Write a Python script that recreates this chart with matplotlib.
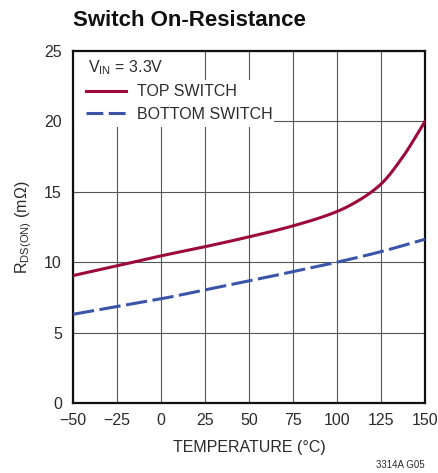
import numpy as np
import matplotlib
matplotlib.use('Agg')
import matplotlib.pyplot as plt
from matplotlib import font_manager

# temperature (C) and on-resistance (mOhm)
temp_top = [-50, -25, 0, 25, 50, 75, 100, 112.5, 125, 137.5, 150]
rds_top = [9.05, 9.74, 10.45, 11.1, 11.8, 12.58, 13.6, 14.4, 15.55, 17.5, 20.0]
temp_bot = [-50, -25, 0, 25, 50, 75, 100, 125, 150]
rds_bot = [6.3, 6.85, 7.4, 8.03, 8.67, 9.33, 10.0, 10.75, 11.63]

xticks = [-50, -25, 0, 25, 50, 75, 100, 125, 150]
xticklabels = ['\u221250', '\u221225', '0', '25', '50', '75', '100', '125', '150']
yticks = [0, 5, 10, 15, 20, 25]

# narrow font if there is one, else plain Liberation Sans a bit smaller
names = {f.name for f in font_manager.fontManager.ttflist}
if 'Liberation Sans Narrow' in names:
    fam, fs, fs_title = 'Liberation Sans Narrow', 13.5, 19
else:
    fam, fs, fs_title = 'Liberation Sans', 11.5, 16
plt.rcParams['font.family'] = [fam, 'DejaVu Sans']
plt.rcParams['mathtext.fontset'] = 'custom'
plt.rcParams['mathtext.rm'] = fam

red = '#9c0a3b'
blue = '#3a55a8'
txt = '#2b2b2b'

fig = plt.figure(figsize=(4.39, 4.73), dpi=100)
ax = fig.add_axes([73/439, 70/473, 352/439, 352/473])


def smooth(x, y, n=200):
    # monotone cubic through the read points
    x = np.asarray(x, float)
    y = np.asarray(y, float)
    h = np.diff(x)
    d = np.diff(y) / h
    m = np.zeros_like(y)
    m[0], m[-1] = d[0], d[-1]
    for i in range(1, len(x) - 1):
        if d[i-1] * d[i] > 0:
            w1 = 2*h[i] + h[i-1]
            w2 = h[i] + 2*h[i-1]
            m[i] = (w1 + w2) / (w1/d[i-1] + w2/d[i])
    xs = np.linspace(x[0], x[-1], n)
    idx = np.clip(np.searchsorted(x, xs) - 1, 0, len(x) - 2)
    t = (xs - x[idx]) / h[idx]
    h00 = 2*t**3 - 3*t**2 + 1
    h10 = t**3 - 2*t**2 + t
    h01 = -2*t**3 + 3*t**2
    h11 = t**3 - t**2
    ys = h00*y[idx] + h10*h[idx]*m[idx] + h01*y[idx+1] + h11*h[idx]*m[idx+1]
    return xs, ys


xs, ys = smooth(temp_top, rds_top)
ax.plot(xs, ys, color=red, lw=2.2, zorder=3)
xs, ys = smooth(temp_bot, rds_bot)
ax.plot(xs, ys, color=blue, lw=2.2, dashes=(7, 1.8), zorder=3)

ax.set_xlim(-50, 150)
ax.set_ylim(0, 25)
ax.set_xticks(xticks)
ax.set_xticklabels(xticklabels)
ax.set_yticks(yticks)
ax.tick_params(length=0, labelsize=fs, colors=txt)
ax.tick_params(axis='y', pad=8)
ax.tick_params(axis='x', pad=7)
ax.grid(True, color='#555555', lw=0.8)
ax.set_axisbelow(True)
for s in ax.spines.values():
    s.set_linewidth(1.6)
    s.set_color('#111111')

ax.set_xlabel('TEMPERATURE (\u00b0C)', fontsize=fs, color=txt, labelpad=9)
ax.set_ylabel('R$_{\\mathregular{DS(ON)}}$ (m\u03a9)', fontsize=fs, color=txt, labelpad=7)

# white area behind the legend text (grid is hidden there)
ax.add_patch(plt.Rectangle((-50, 22.94), 72, 2.06, facecolor='white',
                           edgecolor='none', zorder=1))
ax.add_patch(plt.Rectangle((-50, 19.6), 114, 3.34, facecolor='white',
                           edgecolor='none', zorder=1))

ax.text(-41.5, 23.8, 'V$_{\\mathregular{IN}}$ = 3.3V', fontsize=fs, color=txt,
        va='center', ha='left', zorder=2)
ax.text(-13.6, 22.1, 'TOP SWITCH', fontsize=fs, color=txt, va='center', ha='left',
        zorder=2)
ax.text(-13.6, 20.5, 'BOTTOM SWITCH', fontsize=fs, color=txt, va='center', ha='left',
        zorder=2)
ax.plot([-42.6, -19.9], [22.15, 22.15], color=red, lw=2.2, zorder=3)
ax.plot([-42.6, -19.9], [20.6, 20.6], color=blue, lw=2.2, dashes=(5.5, 1.8), zorder=3)

fig.text(73/439, 1 - 20/473, 'Switch On-Resistance', fontsize=fs_title,
         fontweight='bold', color='#111111', va='center', ha='left')
fig.text(425/439, 1 - 465/473, '3314A G05', fontsize=7, color=txt,
         ha='right', va='center')

fig.savefig('out.png', dpi=100)
